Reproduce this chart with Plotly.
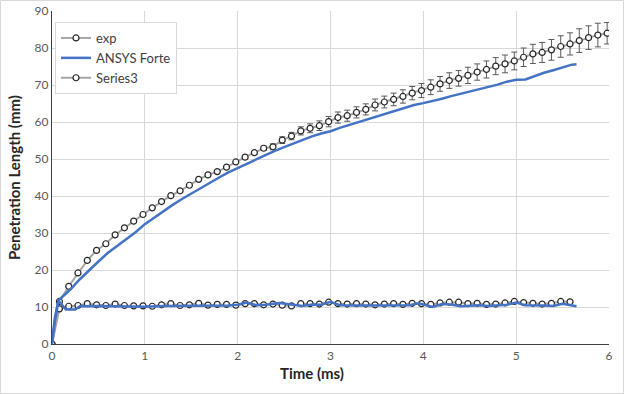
import plotly.graph_objects as go

# ---- data ----
exp_t = [0, 0.08, 0.18, 0.28, 0.38, 0.48, 0.58, 0.68, 0.78, 0.88, 0.98,
         1.08, 1.18, 1.28, 1.38, 1.48, 1.58, 1.68, 1.78, 1.88, 1.98,
         2.08, 2.18, 2.28, 2.38, 2.48, 2.58, 2.68, 2.78, 2.88, 2.98,
         3.08, 3.18, 3.28, 3.38, 3.48, 3.58, 3.68, 3.78, 3.88, 3.98,
         4.08, 4.18, 4.28, 4.38, 4.48, 4.58, 4.68, 4.78, 4.88, 4.98,
         5.08, 5.18, 5.28, 5.38, 5.48, 5.58, 5.68, 5.78, 5.88, 5.98]
exp_y = [0, 11.5, 15.6, 19.2, 22.6, 25.3, 27.1, 29.5, 31.4, 33.2, 35.0,
         36.8, 38.5, 40.1, 41.4, 42.9, 44.5, 45.7, 46.6, 47.8, 49.2,
         50.5, 51.7, 52.9, 53.3, 55.1, 56.2, 57.6, 58.3, 59.0, 60.1,
         61.2, 61.7, 62.6, 63.4, 64.6, 65.4, 66.1, 66.9, 67.8, 68.5,
         69.4, 70.3, 71.2, 71.8, 72.6, 73.5, 74.2, 75.1, 75.7, 76.5,
         77.5, 78.4, 78.8, 79.5, 80.4, 81.1, 82.0, 82.8, 83.5, 84.0]
exp_err = [0, 0, 0, 0, 0, 0, 0, 0, 0, 0, 0,
           0, 0, 0, 0, 0, 0, 0, 0, 0, 0,
           0.3, 0.4, 0.6, 0.8, 0.9, 1.0, 1.1, 1.2, 1.3, 1.4,
           1.5, 1.5, 1.5, 1.5, 1.6, 1.6, 1.7, 1.8, 1.8, 1.9,
           2.0, 2.0, 2.1, 2.1, 2.2, 2.2, 2.3, 2.3, 2.4, 2.4,
           2.5, 2.6, 2.7, 2.8, 2.9, 3.0, 3.2, 3.2, 3.2, 2.9]

s3_t = [0, 0.08, 0.18, 0.28, 0.38, 0.48, 0.58, 0.68, 0.78, 0.88, 0.98,
        1.08, 1.18, 1.28, 1.38, 1.48, 1.58, 1.68, 1.78, 1.88, 1.98,
        2.08, 2.18, 2.28, 2.38, 2.48, 2.58, 2.68, 2.78, 2.88, 2.98,
        3.08, 3.18, 3.28, 3.38, 3.48, 3.58, 3.68, 3.78, 3.88, 3.98,
        4.08, 4.18, 4.28, 4.38, 4.48, 4.58, 4.68, 4.78, 4.88, 4.98,
        5.08, 5.18, 5.28, 5.38, 5.48, 5.58]
s3_y = [0, 9.5, 10.2, 10.4, 10.9, 10.6, 10.4, 10.8, 10.4, 10.3, 10.3,
        10.2, 10.6, 10.9, 10.4, 10.6, 11.0, 10.5, 10.7, 10.7, 10.5,
        10.9, 10.9, 10.6, 10.8, 10.5, 10.3, 10.9, 10.9, 10.8, 11.3,
        10.9, 10.8, 10.9, 10.8, 10.6, 10.8, 10.9, 10.7, 11.0, 10.9,
        10.7, 11.1, 11.3, 11.3, 10.9, 11.0, 10.7, 10.8, 11.1, 11.5,
        11.2, 11.0, 10.8, 11.0, 11.5, 11.4]

ans_t = [0, 0.03, 0.07, 0.2, 0.3, 0.4, 0.5, 0.6, 0.7, 0.8, 0.9,
         1.0, 1.1, 1.2, 1.3, 1.4, 1.5, 1.6, 1.7, 1.8, 1.9,
         2.0, 2.1, 2.2, 2.3, 2.4, 2.5, 2.6, 2.7, 2.8, 2.9,
         3.0, 3.1, 3.2, 3.3, 3.4, 3.5, 3.6, 3.7, 3.8, 3.9,
         4.0, 4.1, 4.2, 4.3, 4.4, 4.5, 4.6, 4.7, 4.8, 4.9,
         5.0, 5.1, 5.2, 5.3, 5.4, 5.5, 5.6, 5.65]
ans_y = [0, 7.0, 11.8, 14.8, 17.5, 20.0, 22.3, 24.6, 26.5, 28.2, 30.2,
         32.4, 34.2, 36.0, 37.6, 39.2, 40.7, 42.2, 43.6, 45.0, 46.4,
         47.6, 48.8, 50.0, 51.1, 52.2, 53.2, 54.2, 55.2, 56.1, 56.9,
         57.5, 58.4, 59.2, 60.0, 60.8, 61.6, 62.3, 63.0, 63.8, 64.6,
         65.1, 65.6, 66.3, 67.0, 67.6, 68.2, 68.9, 69.5, 70.1, 70.9,
         71.4, 71.5, 72.5, 73.3, 74.0, 74.8, 75.5, 75.6]

liq_t = [0, 0.03, 0.07, 0.1, 0.15, 0.25, 0.3, 0.5, 0.8, 1.0, 1.2, 1.4, 1.6,
         1.8, 1.9, 2.0, 2.1, 2.2, 2.3, 2.45, 2.6, 2.7, 2.8, 2.9, 3.0, 3.1,
         3.3, 3.5, 3.7, 3.85, 3.95, 4.05, 4.1, 4.2, 4.3, 4.4, 4.5, 4.6, 4.7,
         4.8, 4.9, 5.0, 5.1, 5.3, 5.4, 5.5, 5.55, 5.65]
liq_y = [0, 6.0, 11.7, 10.8, 9.3, 9.3, 10.2, 10.3, 10.2, 10.1, 10.3, 10.3, 10.4,
         10.5, 10.4, 10.6, 11.2, 10.5, 10.6, 11.1, 10.5, 10.3, 10.7, 10.6, 11.4, 10.5,
         10.4, 10.4, 10.5, 10.5, 11.0, 10.4, 10.0, 10.8, 10.7, 10.2, 10.3, 10.5, 10.3,
         10.4, 10.6, 11.2, 10.5, 10.4, 10.3, 10.9, 10.7, 10.2]

x_ticks = [0, 1, 2, 3, 4, 5, 6]
y_ticks = [0, 10, 20, 30, 40, 50, 60, 70, 80, 90]

GRAY = "#a5a5a5"
BLUE = "#4472c4"
FONT = "Lato, 'Open Sans', sans-serif"

marker = dict(symbol="circle", size=6, color="white",
              line=dict(color="#262626", width=1.2))

fig = go.Figure()
fig.add_trace(go.Scatter(
    x=exp_t, y=exp_y, name="exp", mode="lines+markers",
    line=dict(color=GRAY, width=2), marker=marker,
    error_y=dict(type="data", array=exp_err, visible=True,
                 color="#595959", thickness=1, width=3)))
fig.add_trace(go.Scatter(
    x=ans_t, y=ans_y, name="ANSYS Forte", mode="lines",
    line=dict(color=BLUE, width=2.5)))
fig.add_trace(go.Scatter(
    x=s3_t, y=s3_y, name="Series3", mode="lines+markers",
    line=dict(color=GRAY, width=2), marker=marker))
fig.add_trace(go.Scatter(
    x=liq_t, y=liq_y, name="ANSYS Forte liquid", mode="lines",
    line=dict(color=BLUE, width=2.5), showlegend=False))

W, H = 624, 394
L, R, T, B = 52, 15, 11, 50
pw, ph = W - L - R, H - T - B

fig.update_layout(
    width=W, height=H,
    margin=dict(l=L, r=R, t=T, b=B, autoexpand=False),
    paper_bgcolor="white", plot_bgcolor="white",
    font=dict(family=FONT, color="#595959", size=12),
    showlegend=True,
    legend=dict(x=(55 - L) / pw, y=(344 - 22) / ph, xanchor="left", yanchor="top",
                bgcolor="white", bordercolor="#d9d9d9", borderwidth=1,
                font=dict(family=FONT, size=13, color="#404040"),
                itemwidth=30, tracegroupgap=0),
    xaxis=dict(range=[0, 6], tickvals=x_ticks, showgrid=True, gridcolor="#d9d9d9",
               gridwidth=1, zeroline=False, showline=True, linecolor="#404040",
               linewidth=1.3, ticks="", automargin=False,
               tickfont=dict(size=12, color="#595959")),
    yaxis=dict(range=[0, 90], tickvals=y_ticks, showgrid=True, gridcolor="#d9d9d9",
               gridwidth=1, zeroline=False, showline=True, linecolor="#404040",
               linewidth=1.3, ticks="", automargin=False,
               tickfont=dict(size=12, color="#595959"),
               title=dict(text="<b>Penetration Length (mm)</b>", standoff=10,
                          font=dict(size=15, color="#262626"))),
    annotations=[dict(text="<b>Time (ms)</b>", xref="paper", yref="paper",
                      x=(312 - L) / pw, y=(344 - 373) / ph, xanchor="center",
                      yanchor="middle", showarrow=False,
                      font=dict(family=FONT, size=15, color="#262626"))],
    shapes=[dict(type="rect", xref="paper", yref="paper",
                 x0=(0.5 - L) / pw, x1=(W - 0.5 - L) / pw,
                 y0=(344 - (H - 0.5)) / ph, y1=(344 - 0.5) / ph,
                 line=dict(color="#d9d9d9", width=1), layer="below")],
)

fig.write_html("out.html", config={"displayModeBar": False},
               post_script="document.body.style.margin='0';document.body.style.overflow='hidden';")
